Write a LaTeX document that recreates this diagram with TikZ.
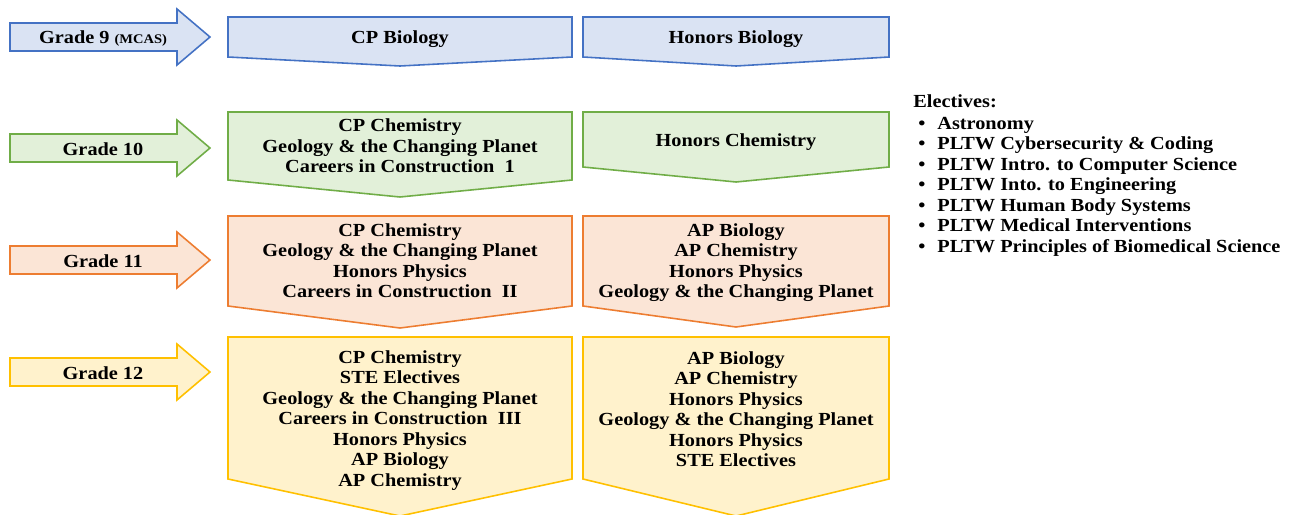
\documentclass[tikz,border=0pt]{standalone}
\usepackage{fontspec}
\setmainfont{Liberation Serif}[FakeStretch=1.1]
\usepackage{xcolor}
\definecolor{blueline}{HTML}{4472C4}
\definecolor{bluefill}{HTML}{DAE3F3}
\definecolor{greenline}{HTML}{70AD47}
\definecolor{greenfill}{HTML}{E2F0D9}
\definecolor{orangeline}{HTML}{ED7D31}
\definecolor{orangefill}{HTML}{FBE5D6}
\definecolor{yellowline}{HTML}{FFC000}
\definecolor{yellowfill}{HTML}{FFF2CC}
\tikzset{
  shape9/.style={draw=blueline, fill=bluefill, line width=0.9pt, line join=miter},
  shape10/.style={draw=greenline, fill=greenfill, line width=0.9pt, line join=miter},
  shape11/.style={draw=orangeline, fill=orangefill, line width=0.9pt, line join=miter},
  shape12/.style={draw=yellowline, fill=yellowfill, line width=0.9pt, line join=miter},
  label/.style={align=center, inner sep=0pt, font=\bfseries\fontsize{10.5}{11.67}\selectfont},
  list/.style={align=left, inner sep=0pt, font=\bfseries\fontsize{10.5}{11.67}\selectfont}
}

\begin{document}
\begin{tikzpicture}[x=0.02cm, y=-0.02cm]
  \useasboundingbox (0,0) rectangle (1298,514);

  % grade arrows
  \draw[shape9] (10,23) -- (177,23) -- (177,9) -- (210,37) -- (177,65) -- (177,51) -- (10,51) -- cycle;
  \draw[shape10] (10,134) -- (177,134) -- (177,120) -- (210,148) -- (177,176) -- (177,162) -- (10,162) -- cycle;
  \draw[shape11] (10,246) -- (177,246) -- (177,232) -- (210,260) -- (177,288) -- (177,274) -- (10,274) -- cycle;
  \draw[shape12] (10,358) -- (177,358) -- (177,344) -- (210,372) -- (177,400) -- (177,386) -- (10,386) -- cycle;
  \node[label] (grade9) at (103,38.5) {Grade 9 {\fontsize{7.5}{9}\selectfont (MCAS)}};
  \node[label] (grade10) at (103,149.5) {Grade 10};
  \node[label] (grade11) at (103,261.5) {Grade 11};
  \node[label] (grade12) at (103,373.5) {Grade 12};

  % course boxes
  \draw[shape9] (228,17) -- (572,17) -- (572,57) -- (400,66) -- (228,57) -- cycle;
  \draw[shape9] (583,17) -- (889,17) -- (889,57) -- (736,66) -- (583,57) -- cycle;
  \draw[shape10] (228,112) -- (572,112) -- (572,180) -- (400,197) -- (228,180) -- cycle;
  \draw[shape10] (583,112) -- (889,112) -- (889,167) -- (736,182) -- (583,167) -- cycle;
  \draw[shape11] (228,216) -- (572,216) -- (572,306) -- (400,328) -- (228,306) -- cycle;
  \draw[shape11] (583,216) -- (889,216) -- (889,306) -- (736,327) -- (583,306) -- cycle;
  \draw[shape12] (228,337) -- (572,337) -- (572,479) -- (400,516) -- (228,479) -- cycle;
  \draw[shape12] (583,337) -- (889,337) -- (889,479) -- (736,516) -- (583,479) -- cycle;

  \node[label] (cpnine) at (400,39.5) {CP Biology};
  \node[label] (honnine) at (736,39.5) {Honors Biology};
  \node[label] (cpten) at (400,146) {CP Chemistry\\Geology \& the Changing Planet\\Careers in Construction\ \ 1};
  \node[label] (honten) at (736,142.5) {Honors Chemistry};
  \node[label] (cpeleven) at (400,260.5) {CP Chemistry\\Geology \& the Changing Planet\\Honors Physics\\Careers in Construction\ \ II};
  \node[label] (honeleven) at (736,262.5) {AP Biology\\AP Chemistry\\Honors Physics\\Geology \& the Changing Planet};
  \node[label] (cptwelve) at (400,420.5) {CP Chemistry\\STE Electives\\Geology \& the Changing Planet\\Careers in Construction\ \ III\\Honors Physics\\AP Biology\\AP Chemistry};
  \node[label] (hontwelve) at (736,409) {AP Biology\\AP Chemistry\\Honors Physics\\Geology \& the Changing Planet\\Honors Physics\\STE Electives};

  % electives list
  \node[list, anchor=north west] (electives) at (913,94) {Electives:\\[0.03cm]
    \hspace*{0.1cm}\makebox[0.38cm][l]{\textbullet}Astronomy\\
    \hspace*{0.1cm}\makebox[0.38cm][l]{\textbullet}PLTW Cybersecurity \& Coding\\
    \hspace*{0.1cm}\makebox[0.38cm][l]{\textbullet}PLTW Intro. to Computer Science\\
    \hspace*{0.1cm}\makebox[0.38cm][l]{\textbullet}PLTW Into. to Engineering\\
    \hspace*{0.1cm}\makebox[0.38cm][l]{\textbullet}PLTW Human Body Systems\\
    \hspace*{0.1cm}\makebox[0.38cm][l]{\textbullet}PLTW Medical Interventions\\
    \hspace*{0.1cm}\makebox[0.38cm][l]{\textbullet}PLTW Principles of Biomedical Science};
\end{tikzpicture}
\end{document}
